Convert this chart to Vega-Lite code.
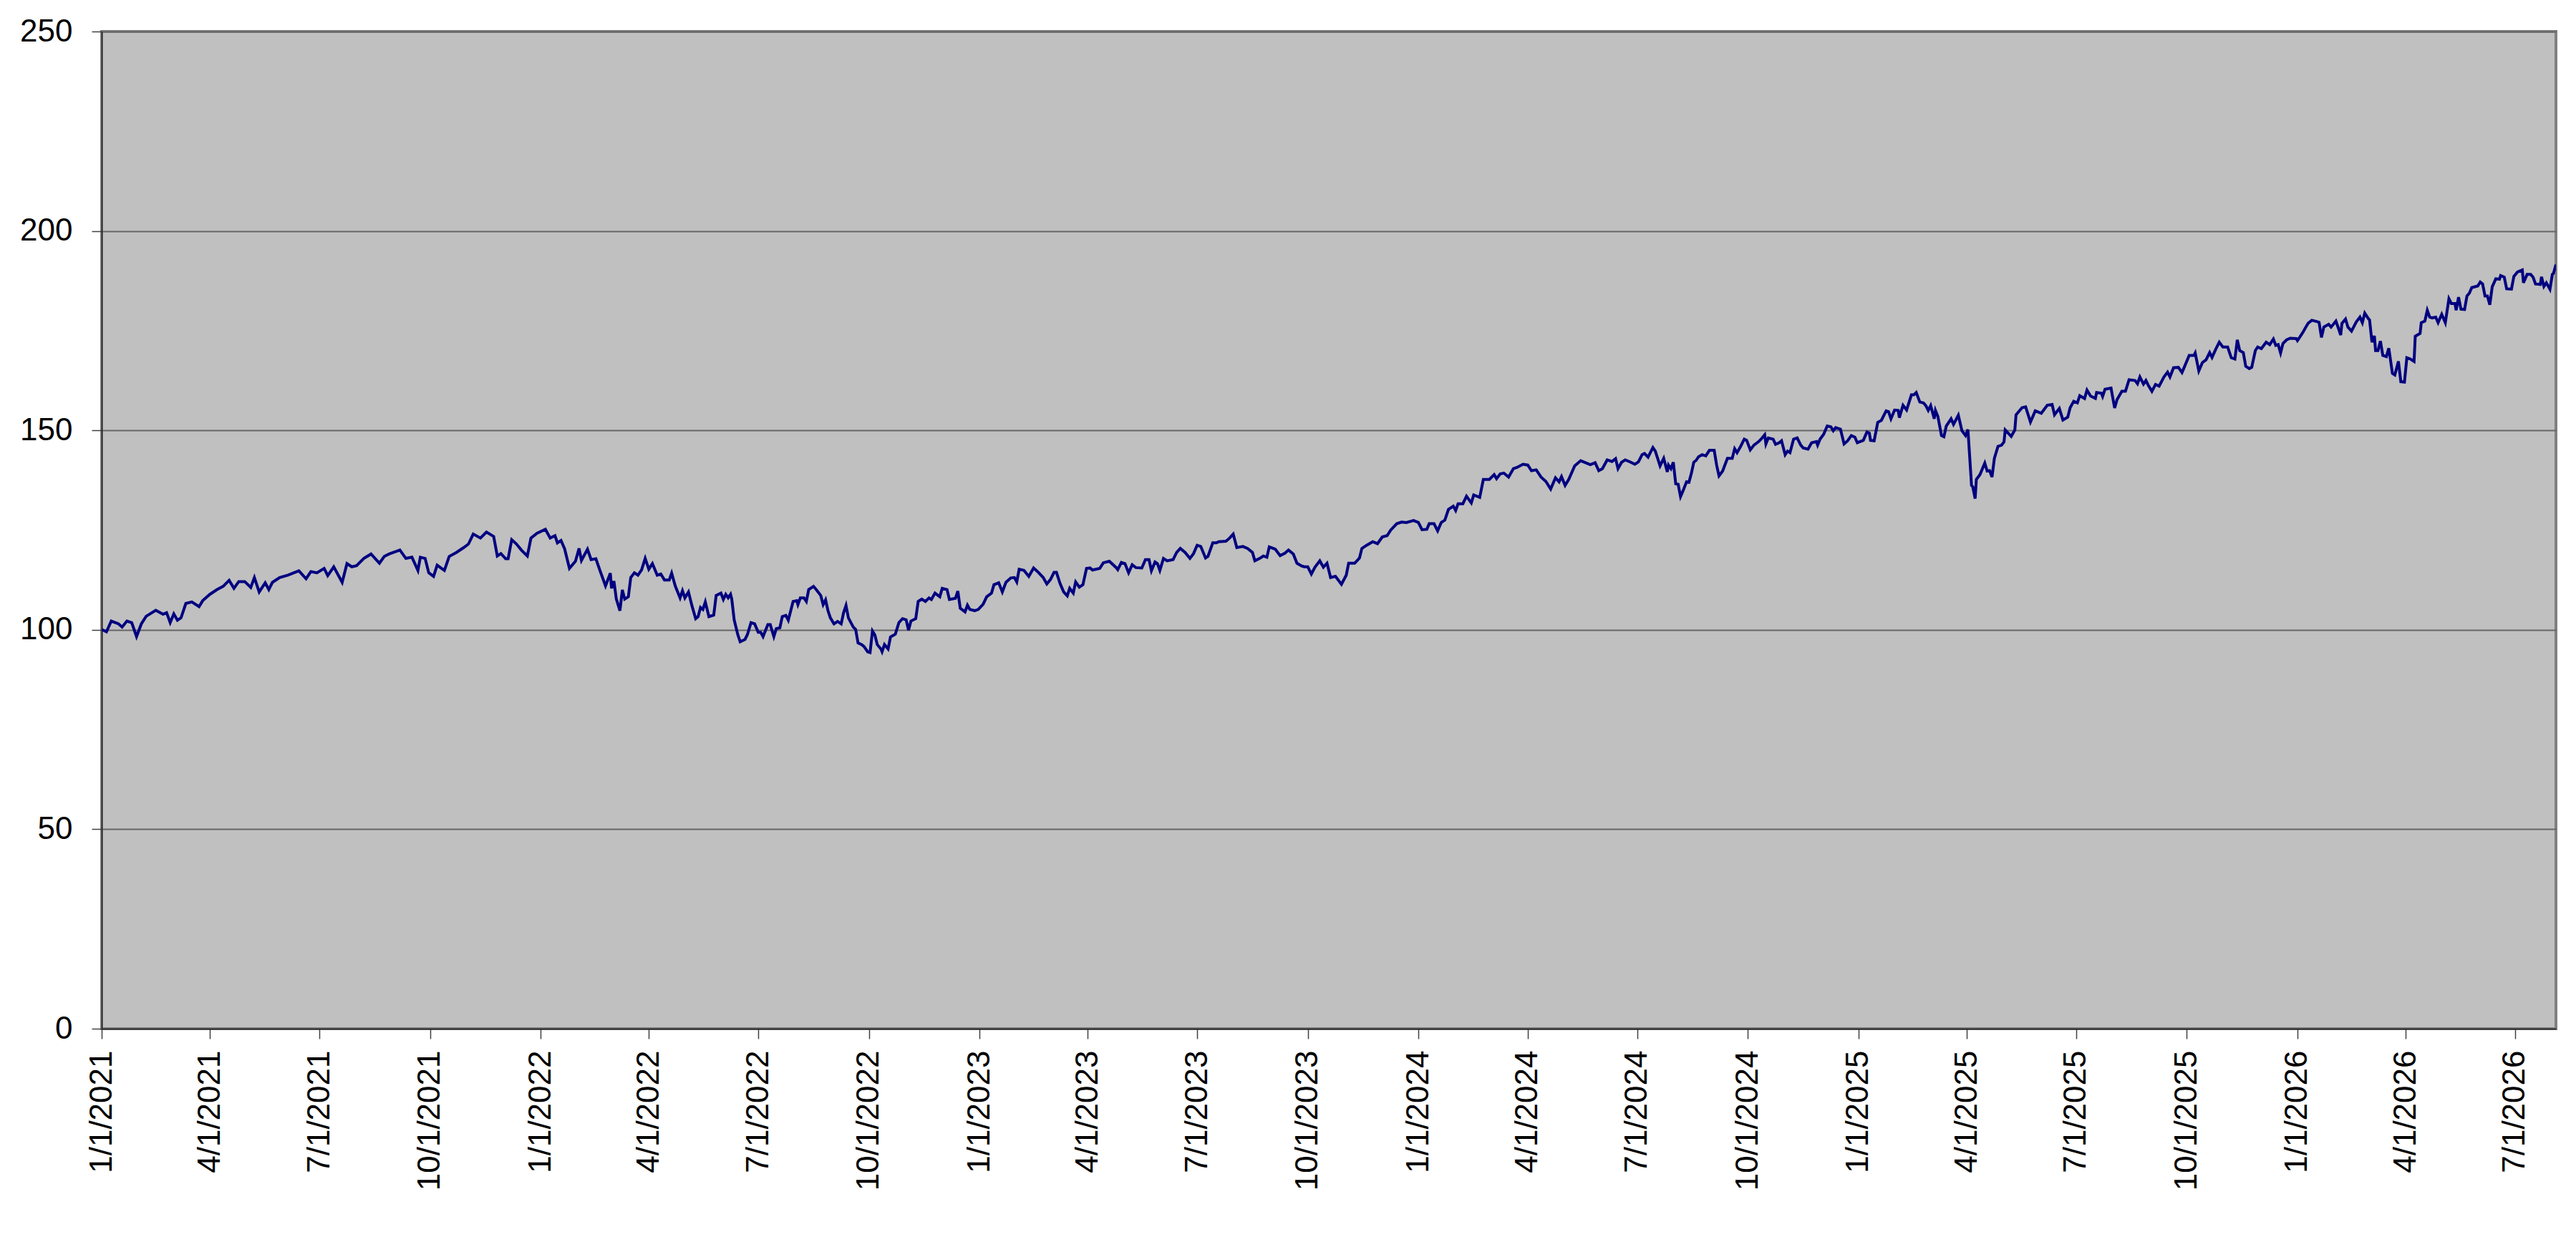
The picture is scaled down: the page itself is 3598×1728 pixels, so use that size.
{
  "$schema": "https://vega.github.io/schema/vega-lite/v6.json",
  "width": 3428,
  "height": 1393,
  "autosize": {"type": "none"},
  "padding": {"left": 142, "top": 44, "right": 28, "bottom": 291},
  "background": "#ffffff",
  "config": {
    "font": "Liberation Sans",
    "view": {"fill": "#C0C0C0", "stroke": "#808080", "strokeWidth": 4},
    "axis": {"labelFont": "Liberation Sans", "labelFontSize": 44, "labelColor": "#000000", "labelLimit": 0, "tickColor": "#404040", "tickWidth": 1.5, "tickSize": 14, "domainColor": "#202020", "domainWidth": 1.5}
  },
  "data": {
    "format": {"parse": {"date": "date:'%Y-%m-%d'"}},
    "values": [
{"date":"2021-01-01","value":100.1},{"date":"2021-01-05","value":99.5},{"date":"2021-01-09","value":102.2},{"date":"2021-01-15","value":101.5},{"date":"2021-01-18","value":100.7},{"date":"2021-01-22","value":102.2},{"date":"2021-01-26","value":101.8},{"date":"2021-01-30","value":98.3},{"date":"2021-02-03","value":101.5},{"date":"2021-02-07","value":103.4},{"date":"2021-02-15","value":104.9},{"date":"2021-02-21","value":103.9},{"date":"2021-02-24","value":104.3},{"date":"2021-02-27","value":101.8},{"date":"2021-03-02","value":104.0},{"date":"2021-03-05","value":102.4},{"date":"2021-03-08","value":103.0},{"date":"2021-03-12","value":106.6},{"date":"2021-03-17","value":107.0},{"date":"2021-03-23","value":105.8},{"date":"2021-03-26","value":107.3},{"date":"2021-04-01","value":108.9},{"date":"2021-04-07","value":110.1},{"date":"2021-04-12","value":110.9},{"date":"2021-04-17","value":112.4},{"date":"2021-04-21","value":110.4},{"date":"2021-04-25","value":112.1},{"date":"2021-04-30","value":112.1},{"date":"2021-05-05","value":110.6},{"date":"2021-05-08","value":113.1},{"date":"2021-05-12","value":109.5},{"date":"2021-05-17","value":111.8},{"date":"2021-05-20","value":110.1},{"date":"2021-05-23","value":111.9},{"date":"2021-05-29","value":113.1},{"date":"2021-06-05","value":113.7},{"date":"2021-06-14","value":114.8},{"date":"2021-06-20","value":112.8},{"date":"2021-06-24","value":114.6},{"date":"2021-06-29","value":114.3},{"date":"2021-07-05","value":115.4},{"date":"2021-07-08","value":113.6},{"date":"2021-07-13","value":115.8},{"date":"2021-07-20","value":111.9},{"date":"2021-07-24","value":116.6},{"date":"2021-07-28","value":115.8},{"date":"2021-08-01","value":116.1},{"date":"2021-08-07","value":117.9},{"date":"2021-08-13","value":119.0},{"date":"2021-08-20","value":116.7},{"date":"2021-08-24","value":118.4},{"date":"2021-08-28","value":119.0},{"date":"2021-09-06","value":120.0},{"date":"2021-09-11","value":117.9},{"date":"2021-09-16","value":118.2},{"date":"2021-09-21","value":114.9},{"date":"2021-09-23","value":118.2},{"date":"2021-09-27","value":117.9},{"date":"2021-09-30","value":114.3},{"date":"2021-10-04","value":113.4},{"date":"2021-10-07","value":116.2},{"date":"2021-10-13","value":114.9},{"date":"2021-10-17","value":118.4},{"date":"2021-10-23","value":119.4},{"date":"2021-10-29","value":120.6},{"date":"2021-11-02","value":121.5},{"date":"2021-11-06","value":124.0},{"date":"2021-11-12","value":123.0},{"date":"2021-11-17","value":124.5},{"date":"2021-11-23","value":123.4},{"date":"2021-11-26","value":118.5},{"date":"2021-11-29","value":119.1},{"date":"2021-12-03","value":117.8},{"date":"2021-12-05","value":117.8},{"date":"2021-12-08","value":122.6},{"date":"2021-12-12","value":121.5},{"date":"2021-12-16","value":120.0},{"date":"2021-12-21","value":118.5},{"date":"2021-12-24","value":123.0},{"date":"2021-12-29","value":124.2},
{"date":"2022-01-05","value":125.2},{"date":"2022-01-09","value":123.0},{"date":"2022-01-13","value":123.6},{"date":"2022-01-15","value":121.8},{"date":"2022-01-18","value":122.4},{"date":"2022-01-21","value":120.3},{"date":"2022-01-25","value":115.4},{"date":"2022-01-30","value":117.2},{"date":"2022-02-02","value":120.4},{"date":"2022-02-04","value":117.4},{"date":"2022-02-09","value":120.2},{"date":"2022-02-12","value":117.6},{"date":"2022-02-16","value":117.8},{"date":"2022-02-19","value":115.2},{"date":"2022-02-24","value":111.0},{"date":"2022-02-28","value":114.2},{"date":"2022-03-01","value":110.4},{"date":"2022-03-03","value":112.2},{"date":"2022-03-05","value":107.7},{"date":"2022-03-08","value":104.8},{"date":"2022-03-10","value":110.0},{"date":"2022-03-12","value":107.7},{"date":"2022-03-15","value":108.3},{"date":"2022-03-17","value":113.1},{"date":"2022-03-20","value":114.3},{"date":"2022-03-23","value":113.7},{"date":"2022-03-26","value":115.0},{"date":"2022-03-29","value":117.9},{"date":"2022-04-01","value":115.2},{"date":"2022-04-04","value":116.6},{"date":"2022-04-08","value":113.7},{"date":"2022-04-11","value":114.0},{"date":"2022-04-14","value":112.5},{"date":"2022-04-18","value":112.5},{"date":"2022-04-20","value":114.2},{"date":"2022-04-23","value":111.0},{"date":"2022-04-27","value":108.0},{"date":"2022-04-29","value":109.8},{"date":"2022-05-01","value":108.0},{"date":"2022-05-04","value":109.5},{"date":"2022-05-07","value":105.9},{"date":"2022-05-10","value":102.8},{"date":"2022-05-12","value":103.3},{"date":"2022-05-14","value":105.6},{"date":"2022-05-16","value":105.1},{"date":"2022-05-18","value":107.0},{"date":"2022-05-21","value":103.3},{"date":"2022-05-25","value":103.7},{"date":"2022-05-27","value":108.6},{"date":"2022-05-31","value":109.2},{"date":"2022-06-02","value":107.6},{"date":"2022-06-04","value":108.9},{"date":"2022-06-06","value":108.0},{"date":"2022-06-08","value":108.9},{"date":"2022-06-09","value":107.7},{"date":"2022-06-11","value":102.5},{"date":"2022-06-14","value":98.8},{"date":"2022-06-16","value":97.0},{"date":"2022-06-20","value":97.6},{"date":"2022-06-22","value":98.8},{"date":"2022-06-25","value":101.8},{"date":"2022-06-28","value":101.5},{"date":"2022-07-01","value":99.4},{"date":"2022-07-03","value":99.4},{"date":"2022-07-05","value":98.3},{"date":"2022-07-09","value":101.3},{"date":"2022-07-11","value":101.3},{"date":"2022-07-14","value":98.3},{"date":"2022-07-16","value":100.3},{"date":"2022-07-19","value":100.5},{"date":"2022-07-21","value":103.3},{"date":"2022-07-24","value":103.6},{"date":"2022-07-26","value":102.4},{"date":"2022-07-30","value":107.1},{"date":"2022-08-02","value":107.3},{"date":"2022-08-03","value":106.3},{"date":"2022-08-05","value":108.0},{"date":"2022-08-08","value":108.0},{"date":"2022-08-10","value":107.1},{"date":"2022-08-12","value":110.1},{"date":"2022-08-16","value":110.9},{"date":"2022-08-19","value":109.8},{"date":"2022-08-22","value":108.6},{"date":"2022-08-24","value":106.3},{"date":"2022-08-26","value":107.5},{"date":"2022-08-28","value":104.8},{"date":"2022-08-30","value":103.0},{"date":"2022-09-02","value":101.5},{"date":"2022-09-05","value":102.1},{"date":"2022-09-08","value":101.5},{"date":"2022-09-10","value":104.3},{"date":"2022-09-12","value":106.1},{"date":"2022-09-14","value":103.0},{"date":"2022-09-18","value":100.7},{"date":"2022-09-20","value":100.1},{"date":"2022-09-22","value":96.7},{"date":"2022-09-25","value":96.3},{"date":"2022-09-27","value":95.8},{"date":"2022-09-30","value":94.5},{"date":"2022-10-02","value":94.3},{"date":"2022-10-04","value":99.7},{"date":"2022-10-06","value":98.7},{"date":"2022-10-08","value":96.3},{"date":"2022-10-11","value":95.2},{"date":"2022-10-12","value":94.5},{"date":"2022-10-14","value":96.3},{"date":"2022-10-17","value":95.2},{"date":"2022-10-19","value":98.2},{"date":"2022-10-23","value":98.9},{"date":"2022-10-26","value":101.8},{"date":"2022-10-29","value":102.8},{"date":"2022-11-01","value":102.5},{"date":"2022-11-03","value":99.9},{"date":"2022-11-05","value":102.2},{"date":"2022-11-09","value":102.8},{"date":"2022-11-11","value":107.1},{"date":"2022-11-14","value":107.7},{"date":"2022-11-17","value":107.1},{"date":"2022-11-20","value":108.0},{"date":"2022-11-22","value":107.6},{"date":"2022-11-25","value":109.2},{"date":"2022-11-29","value":108.3},{"date":"2022-12-01","value":110.4},{"date":"2022-12-05","value":110.1},{"date":"2022-12-07","value":107.6},{"date":"2022-12-12","value":107.9},{"date":"2022-12-14","value":109.7},{"date":"2022-12-16","value":105.4},{"date":"2022-12-20","value":104.5},{"date":"2022-12-22","value":106.2},{"date":"2022-12-24","value":105.1},{"date":"2022-12-28","value":104.8},{"date":"2022-12-31","value":105.1},
{"date":"2023-01-04","value":106.4},{"date":"2023-01-07","value":108.3},{"date":"2023-01-11","value":109.2},{"date":"2023-01-13","value":111.3},{"date":"2023-01-17","value":111.8},{"date":"2023-01-20","value":109.5},{"date":"2023-01-23","value":111.9},{"date":"2023-01-27","value":113.0},{"date":"2023-01-30","value":113.1},{"date":"2023-02-01","value":112.0},{"date":"2023-02-03","value":115.2},{"date":"2023-02-07","value":114.9},{"date":"2023-02-11","value":113.4},{"date":"2023-02-15","value":115.5},{"date":"2023-02-19","value":114.4},{"date":"2023-02-23","value":113.1},{"date":"2023-02-26","value":111.5},{"date":"2023-03-01","value":112.6},{"date":"2023-03-04","value":114.4},{"date":"2023-03-06","value":114.4},{"date":"2023-03-09","value":111.6},{"date":"2023-03-12","value":109.5},{"date":"2023-03-15","value":108.5},{"date":"2023-03-17","value":110.4},{"date":"2023-03-20","value":109.2},{"date":"2023-03-22","value":112.0},{"date":"2023-03-25","value":110.7},{"date":"2023-03-28","value":111.3},{"date":"2023-03-31","value":115.4},{"date":"2023-04-03","value":115.5},{"date":"2023-04-05","value":115.0},{"date":"2023-04-11","value":115.4},{"date":"2023-04-14","value":116.8},{"date":"2023-04-19","value":117.2},{"date":"2023-04-25","value":115.5},{"date":"2023-04-26","value":115.1},{"date":"2023-04-29","value":116.9},{"date":"2023-05-02","value":116.6},{"date":"2023-05-05","value":114.3},{"date":"2023-05-08","value":116.3},{"date":"2023-05-11","value":115.6},{"date":"2023-05-16","value":115.5},{"date":"2023-05-19","value":117.6},{"date":"2023-05-22","value":117.6},{"date":"2023-05-24","value":114.8},{"date":"2023-05-27","value":117.0},{"date":"2023-05-29","value":116.6},{"date":"2023-05-31","value":114.9},{"date":"2023-06-03","value":117.9},{"date":"2023-06-06","value":117.3},{"date":"2023-06-11","value":117.6},{"date":"2023-06-14","value":119.4},{"date":"2023-06-17","value":120.4},{"date":"2023-06-21","value":119.4},{"date":"2023-06-25","value":117.9},{"date":"2023-06-28","value":119.1},{"date":"2023-07-01","value":121.2},{"date":"2023-07-04","value":120.9},{"date":"2023-07-08","value":118.0},{"date":"2023-07-10","value":118.4},{"date":"2023-07-14","value":121.8},{"date":"2023-07-17","value":121.8},{"date":"2023-07-19","value":122.1},{"date":"2023-07-25","value":122.2},{"date":"2023-07-28","value":123.0},{"date":"2023-07-31","value":124.0},{"date":"2023-08-03","value":120.6},{"date":"2023-08-08","value":120.9},{"date":"2023-08-12","value":120.4},{"date":"2023-08-16","value":119.4},{"date":"2023-08-18","value":117.3},{"date":"2023-08-22","value":117.9},{"date":"2023-08-25","value":118.5},{"date":"2023-08-28","value":118.2},{"date":"2023-08-30","value":120.8},{"date":"2023-09-04","value":120.2},{"date":"2023-09-08","value":118.6},{"date":"2023-09-12","value":119.2},{"date":"2023-09-15","value":120.0},{"date":"2023-09-19","value":119.0},{"date":"2023-09-22","value":116.7},{"date":"2023-09-26","value":116.0},{"date":"2023-09-28","value":115.8},{"date":"2023-10-01","value":115.8},{"date":"2023-10-04","value":114.0},{"date":"2023-10-07","value":115.7},{"date":"2023-10-11","value":117.3},{"date":"2023-10-14","value":115.7},{"date":"2023-10-17","value":116.7},{"date":"2023-10-20","value":113.1},{"date":"2023-10-24","value":113.4},{"date":"2023-10-29","value":111.4},{"date":"2023-11-02","value":113.7},{"date":"2023-11-04","value":116.7},{"date":"2023-11-09","value":116.7},{"date":"2023-11-13","value":118.0},{"date":"2023-11-15","value":120.4},{"date":"2023-11-19","value":121.2},{"date":"2023-11-24","value":122.1},{"date":"2023-11-28","value":121.6},{"date":"2023-12-02","value":123.3},{"date":"2023-12-06","value":123.6},{"date":"2023-12-09","value":125.0},{"date":"2023-12-14","value":126.6},{"date":"2023-12-18","value":127.0},{"date":"2023-12-22","value":126.9},{"date":"2023-12-28","value":127.4},
{"date":"2024-01-01","value":126.9},{"date":"2024-01-04","value":125.1},{"date":"2024-01-08","value":125.2},{"date":"2024-01-10","value":126.6},{"date":"2024-01-14","value":126.6},{"date":"2024-01-17","value":124.8},{"date":"2024-01-20","value":126.9},{"date":"2024-01-23","value":127.5},{"date":"2024-01-26","value":130.2},{"date":"2024-01-30","value":131.0},{"date":"2024-02-01","value":129.9},{"date":"2024-02-03","value":131.6},{"date":"2024-02-07","value":131.6},{"date":"2024-02-10","value":133.5},{"date":"2024-02-14","value":131.8},{"date":"2024-02-16","value":133.8},{"date":"2024-02-21","value":133.2},{"date":"2024-02-24","value":137.7},{"date":"2024-02-29","value":137.7},{"date":"2024-03-04","value":138.9},{"date":"2024-03-06","value":137.9},{"date":"2024-03-09","value":139.1},{"date":"2024-03-12","value":139.3},{"date":"2024-03-16","value":138.3},{"date":"2024-03-20","value":140.4},{"date":"2024-03-23","value":140.7},{"date":"2024-03-28","value":141.5},{"date":"2024-04-01","value":141.3},{"date":"2024-04-04","value":139.9},{"date":"2024-04-08","value":140.1},{"date":"2024-04-12","value":138.3},{"date":"2024-04-16","value":137.2},{"date":"2024-04-20","value":135.3},{"date":"2024-04-24","value":138.1},{"date":"2024-04-27","value":137.1},{"date":"2024-04-29","value":138.4},{"date":"2024-05-02","value":136.2},{"date":"2024-05-05","value":137.7},{"date":"2024-05-10","value":141.1},{"date":"2024-05-15","value":142.4},{"date":"2024-05-19","value":141.9},{"date":"2024-05-23","value":141.4},{"date":"2024-05-27","value":141.9},{"date":"2024-05-30","value":139.9},{"date":"2024-06-02","value":140.4},{"date":"2024-06-06","value":142.6},{"date":"2024-06-10","value":142.2},{"date":"2024-06-13","value":142.9},{"date":"2024-06-15","value":140.4},{"date":"2024-06-18","value":142.0},{"date":"2024-06-21","value":142.6},{"date":"2024-06-25","value":142.1},{"date":"2024-06-29","value":141.5},{"date":"2024-07-02","value":142.1},{"date":"2024-07-05","value":143.9},{"date":"2024-07-07","value":144.2},{"date":"2024-07-10","value":143.3},{"date":"2024-07-14","value":145.7},{"date":"2024-07-16","value":144.8},{"date":"2024-07-20","value":141.1},{"date":"2024-07-23","value":143.0},{"date":"2024-07-26","value":139.6},{"date":"2024-07-27","value":141.3},{"date":"2024-07-29","value":140.4},{"date":"2024-07-31","value":142.0},{"date":"2024-08-02","value":136.6},{"date":"2024-08-04","value":136.5},{"date":"2024-08-06","value":133.4},{"date":"2024-08-08","value":134.8},{"date":"2024-08-11","value":137.1},{"date":"2024-08-13","value":137.0},{"date":"2024-08-15","value":139.2},{"date":"2024-08-17","value":142.0},{"date":"2024-08-19","value":142.5},{"date":"2024-08-21","value":143.4},{"date":"2024-08-24","value":143.9},{"date":"2024-08-27","value":143.6},{"date":"2024-08-30","value":145.0},{"date":"2024-09-03","value":145.0},{"date":"2024-09-05","value":141.3},{"date":"2024-09-07","value":138.6},{"date":"2024-09-10","value":139.8},{"date":"2024-09-14","value":143.0},{"date":"2024-09-18","value":143.0},{"date":"2024-09-20","value":145.4},{"date":"2024-09-22","value":144.4},{"date":"2024-09-25","value":146.0},{"date":"2024-09-28","value":147.8},{"date":"2024-09-30","value":147.5},{"date":"2024-10-03","value":145.1},{"date":"2024-10-06","value":146.3},{"date":"2024-10-10","value":147.2},{"date":"2024-10-12","value":147.8},{"date":"2024-10-15","value":148.9},{"date":"2024-10-16","value":146.6},{"date":"2024-10-18","value":148.1},{"date":"2024-10-22","value":147.8},{"date":"2024-10-24","value":146.5},{"date":"2024-10-27","value":146.9},{"date":"2024-10-29","value":147.4},{"date":"2024-11-01","value":143.9},{"date":"2024-11-03","value":144.8},{"date":"2024-11-05","value":144.4},{"date":"2024-11-08","value":147.8},{"date":"2024-11-11","value":148.1},{"date":"2024-11-14","value":146.3},{"date":"2024-11-16","value":145.6},{"date":"2024-11-20","value":145.3},{"date":"2024-11-23","value":146.9},{"date":"2024-11-27","value":147.2},{"date":"2024-11-28","value":146.3},{"date":"2024-11-30","value":147.8},{"date":"2024-12-03","value":149.0},{"date":"2024-12-06","value":151.1},{"date":"2024-12-09","value":150.9},{"date":"2024-12-11","value":149.9},{"date":"2024-12-13","value":150.7},{"date":"2024-12-17","value":150.3},{"date":"2024-12-20","value":146.6},{"date":"2024-12-23","value":147.4},{"date":"2024-12-26","value":148.7},{"date":"2024-12-29","value":148.3},{"date":"2024-12-31","value":146.9},
{"date":"2025-01-05","value":147.5},{"date":"2025-01-08","value":149.6},{"date":"2025-01-10","value":149.3},{"date":"2025-01-11","value":147.5},{"date":"2025-01-14","value":147.4},{"date":"2025-01-17","value":152.0},{"date":"2025-01-20","value":152.5},{"date":"2025-01-24","value":154.9},{"date":"2025-01-26","value":154.7},{"date":"2025-01-28","value":152.9},{"date":"2025-01-31","value":155.1},{"date":"2025-02-03","value":155.0},{"date":"2025-02-04","value":153.2},{"date":"2025-02-07","value":156.3},{"date":"2025-02-10","value":155.1},{"date":"2025-02-14","value":158.9},{"date":"2025-02-16","value":158.9},{"date":"2025-02-18","value":159.5},{"date":"2025-02-21","value":157.1},{"date":"2025-02-24","value":156.9},{"date":"2025-02-26","value":156.2},{"date":"2025-02-28","value":155.0},{"date":"2025-03-02","value":156.2},{"date":"2025-03-05","value":152.9},{"date":"2025-03-06","value":155.0},{"date":"2025-03-08","value":153.5},{"date":"2025-03-11","value":148.7},{"date":"2025-03-13","value":148.4},{"date":"2025-03-15","value":151.1},{"date":"2025-03-19","value":152.9},{"date":"2025-03-21","value":151.5},{"date":"2025-03-25","value":153.8},{"date":"2025-03-28","value":149.9},{"date":"2025-03-31","value":148.7},{"date":"2025-04-02","value":150.2},{"date":"2025-04-05","value":136.2},{"date":"2025-04-06","value":135.9},{"date":"2025-04-08","value":132.9},{"date":"2025-04-09","value":137.7},{"date":"2025-04-12","value":138.9},{"date":"2025-04-16","value":141.8},{"date":"2025-04-18","value":139.8},{"date":"2025-04-20","value":139.9},{"date":"2025-04-22","value":138.3},{"date":"2025-04-24","value":143.0},{"date":"2025-04-27","value":146.0},{"date":"2025-04-30","value":146.3},{"date":"2025-05-02","value":147.1},{"date":"2025-05-03","value":150.1},{"date":"2025-05-08","value":148.5},{"date":"2025-05-11","value":150.1},{"date":"2025-05-12","value":153.9},{"date":"2025-05-17","value":155.7},{"date":"2025-05-20","value":155.9},{"date":"2025-05-24","value":152.1},{"date":"2025-05-28","value":154.9},{"date":"2025-06-02","value":154.3},{"date":"2025-06-07","value":156.3},{"date":"2025-06-11","value":156.5},{"date":"2025-06-13","value":153.9},{"date":"2025-06-17","value":155.5},{"date":"2025-06-20","value":152.6},{"date":"2025-06-24","value":153.3},{"date":"2025-06-26","value":155.7},{"date":"2025-06-29","value":157.3},{"date":"2025-07-02","value":156.9},{"date":"2025-07-04","value":158.7},{"date":"2025-07-08","value":158.0},{"date":"2025-07-10","value":160.1},{"date":"2025-07-13","value":158.6},{"date":"2025-07-17","value":158.0},{"date":"2025-07-18","value":159.5},{"date":"2025-07-22","value":159.3},{"date":"2025-07-23","value":158.5},{"date":"2025-07-25","value":160.3},{"date":"2025-07-30","value":160.6},{"date":"2025-08-02","value":155.6},{"date":"2025-08-04","value":157.7},{"date":"2025-08-08","value":159.8},{"date":"2025-08-11","value":159.8},{"date":"2025-08-14","value":162.7},{"date":"2025-08-19","value":162.5},{"date":"2025-08-21","value":161.7},{"date":"2025-08-23","value":163.4},{"date":"2025-08-26","value":161.6},{"date":"2025-08-28","value":162.5},{"date":"2025-08-30","value":161.3},{"date":"2025-09-02","value":159.8},{"date":"2025-09-05","value":161.5},{"date":"2025-09-08","value":161.1},{"date":"2025-09-12","value":163.4},{"date":"2025-09-15","value":164.6},{"date":"2025-09-17","value":163.4},{"date":"2025-09-20","value":165.7},{"date":"2025-09-24","value":165.8},{"date":"2025-09-27","value":164.5},{"date":"2025-09-29","value":165.9},{"date":"2025-10-03","value":168.8},{"date":"2025-10-07","value":168.8},{"date":"2025-10-08","value":169.4},{"date":"2025-10-11","value":164.9},{"date":"2025-10-14","value":167.0},{"date":"2025-10-17","value":167.7},{"date":"2025-10-20","value":169.5},{"date":"2025-10-22","value":168.3},{"date":"2025-10-25","value":170.3},{"date":"2025-10-28","value":172.1},{"date":"2025-10-31","value":170.9},{"date":"2025-11-04","value":170.9},{"date":"2025-11-07","value":168.2},{"date":"2025-11-10","value":167.9},{"date":"2025-11-12","value":172.7},{"date":"2025-11-14","value":170.0},{"date":"2025-11-17","value":169.5},{"date":"2025-11-19","value":166.1},{"date":"2025-11-22","value":165.5},{"date":"2025-11-24","value":165.8},{"date":"2025-11-27","value":170.0},{"date":"2025-11-29","value":170.9},{"date":"2025-12-02","value":170.5},{"date":"2025-12-06","value":172.1},{"date":"2025-12-09","value":171.5},{"date":"2025-12-12","value":172.9},{"date":"2025-12-14","value":171.3},{"date":"2025-12-16","value":171.5},{"date":"2025-12-18","value":169.4},{"date":"2025-12-20","value":171.8},{"date":"2025-12-23","value":172.7},{"date":"2025-12-26","value":173.1},{"date":"2025-12-31","value":173.0},
{"date":"2026-01-01","value":172.5},{"date":"2026-01-03","value":173.4},{"date":"2026-01-06","value":174.8},{"date":"2026-01-08","value":175.9},{"date":"2026-01-10","value":176.9},{"date":"2026-01-13","value":177.6},{"date":"2026-01-17","value":177.3},{"date":"2026-01-19","value":177.1},{"date":"2026-01-21","value":173.3},{"date":"2026-01-23","value":175.9},{"date":"2026-01-27","value":176.6},{"date":"2026-01-29","value":175.9},{"date":"2026-02-02","value":177.4},{"date":"2026-02-04","value":175.7},{"date":"2026-02-06","value":173.9},{"date":"2026-02-07","value":176.8},{"date":"2026-02-10","value":177.9},{"date":"2026-02-12","value":175.9},{"date":"2026-02-15","value":174.9},{"date":"2026-02-19","value":177.2},{"date":"2026-02-22","value":178.4},{"date":"2026-02-24","value":177.0},{"date":"2026-02-26","value":179.4},{"date":"2026-03-01","value":178.0},{"date":"2026-03-02","value":177.7},{"date":"2026-03-04","value":172.1},{"date":"2026-03-06","value":173.7},{"date":"2026-03-07","value":170.0},{"date":"2026-03-09","value":170.0},{"date":"2026-03-11","value":172.4},{"date":"2026-03-13","value":168.8},{"date":"2026-03-16","value":168.5},{"date":"2026-03-18","value":170.6},{"date":"2026-03-21","value":164.3},{"date":"2026-03-23","value":163.9},{"date":"2026-03-26","value":167.3},{"date":"2026-03-28","value":162.2},{"date":"2026-03-31","value":162.1},{"date":"2026-04-02","value":168.2},{"date":"2026-04-05","value":167.9},{"date":"2026-04-08","value":167.3},{"date":"2026-04-09","value":173.6},{"date":"2026-04-13","value":174.3},{"date":"2026-04-14","value":177.0},{"date":"2026-04-17","value":177.4},{"date":"2026-04-19","value":180.1},{"date":"2026-04-21","value":178.4},{"date":"2026-04-23","value":178.2},{"date":"2026-04-26","value":178.4},{"date":"2026-04-28","value":177.0},{"date":"2026-05-01","value":179.1},{"date":"2026-05-04","value":177.0},{"date":"2026-05-07","value":183.0},{"date":"2026-05-09","value":181.8},{"date":"2026-05-12","value":181.8},{"date":"2026-05-13","value":180.1},{"date":"2026-05-15","value":183.4},{"date":"2026-05-17","value":180.4},{"date":"2026-05-20","value":180.3},{"date":"2026-05-22","value":183.7},{"date":"2026-05-24","value":184.4},{"date":"2026-05-26","value":185.8},{"date":"2026-05-31","value":186.2},{"date":"2026-06-02","value":187.2},{"date":"2026-06-04","value":186.7},{"date":"2026-06-06","value":183.7},{"date":"2026-06-08","value":183.7},{"date":"2026-06-10","value":181.5},{"date":"2026-06-12","value":186.0},{"date":"2026-06-15","value":188.0},{"date":"2026-06-18","value":187.9},{"date":"2026-06-19","value":188.8},{"date":"2026-06-22","value":188.4},{"date":"2026-06-24","value":185.5},{"date":"2026-06-28","value":185.4},{"date":"2026-06-30","value":188.6},{"date":"2026-07-03","value":189.7},{"date":"2026-07-07","value":190.2},{"date":"2026-07-08","value":187.0},{"date":"2026-07-11","value":189.1},{"date":"2026-07-14","value":189.1},{"date":"2026-07-16","value":188.4},{"date":"2026-07-18","value":186.7},{"date":"2026-07-22","value":186.6},{"date":"2026-07-23","value":188.5},{"date":"2026-07-25","value":186.1},{"date":"2026-07-27","value":187.0},{"date":"2026-07-30","value":185.4},{"date":"2026-08-01","value":189.1},{"date":"2026-08-02","value":189.4},{"date":"2026-08-04","value":191.6}
    ]
  },
  "mark": {"type": "line", "color": "#000080", "strokeWidth": 4, "clip": true},
  "encoding": {
    "x": {
      "field": "date",
      "type": "temporal",
      "title": null,
      "scale": {"domain": [{"year": 2021, "month": 1, "date": 1}, {"year": 2026, "month": 8, "date": 4}]},
      "axis": {
        "values": [
          {"year": 2021, "month": 1, "date": 1}, {"year": 2021, "month": 4, "date": 1}, {"year": 2021, "month": 7, "date": 1}, {"year": 2021, "month": 10, "date": 1},
          {"year": 2022, "month": 1, "date": 1}, {"year": 2022, "month": 4, "date": 1}, {"year": 2022, "month": 7, "date": 1}, {"year": 2022, "month": 10, "date": 1},
          {"year": 2023, "month": 1, "date": 1}, {"year": 2023, "month": 4, "date": 1}, {"year": 2023, "month": 7, "date": 1}, {"year": 2023, "month": 10, "date": 1},
          {"year": 2024, "month": 1, "date": 1}, {"year": 2024, "month": 4, "date": 1}, {"year": 2024, "month": 7, "date": 1}, {"year": 2024, "month": 10, "date": 1},
          {"year": 2025, "month": 1, "date": 1}, {"year": 2025, "month": 4, "date": 1}, {"year": 2025, "month": 7, "date": 1}, {"year": 2025, "month": 10, "date": 1},
          {"year": 2026, "month": 1, "date": 1}, {"year": 2026, "month": 4, "date": 1}, {"year": 2026, "month": 7, "date": 1}
        ],
        "format": "%-m/%-d/%Y",
        "labelAngle": -90,
        "labelAlign": "right",
        "labelBaseline": "middle",
        "labelPadding": 16,
        "labelOverlap": false,
        "labelBound": false,
        "labelFlush": false,
        "labelLimit": 0,
        "grid": false
      }
    },
    "y": {
      "field": "value",
      "type": "quantitative",
      "title": null,
      "scale": {"domain": [0, 250], "nice": false, "zero": true},
      "axis": {
        "values": [0, 50, 100, 150, 200, 250],
        "labelPadding": 27,
        "grid": true,
        "gridColor": "#666666",
        "gridWidth": 2,
        "labelFlush": false,
        "labelBound": false
      }
    }
  }
}
